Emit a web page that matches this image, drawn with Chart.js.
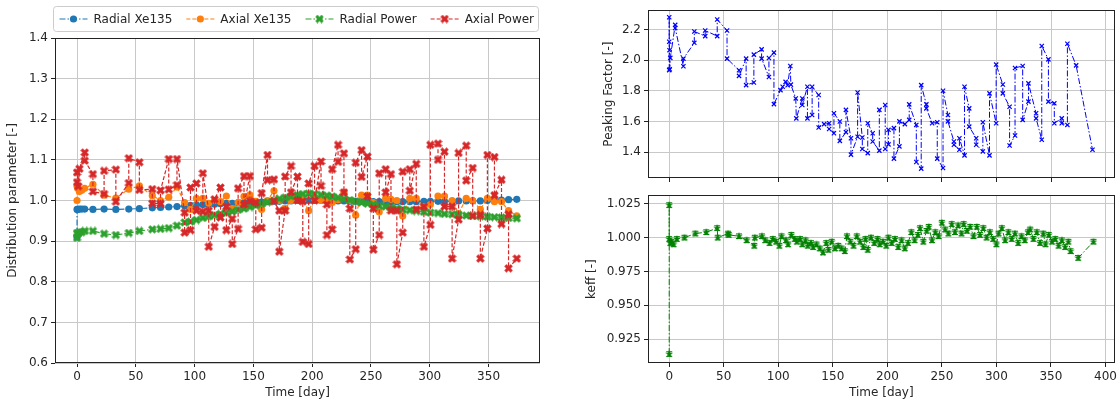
<!DOCTYPE html>
<html>
<head>
<meta charset="utf-8">
<script src="https://cdn.jsdelivr.net/npm/chart.js@4.4.0/dist/chart.umd.min.js"></script>
<style>
  html, body { margin: 0; padding: 0; background: #fff; }
  #wrap { position: relative; width: 1120px; height: 403px; overflow: hidden; }
  canvas { position: absolute; }
</style>
</head>
<body>
<div id="wrap">
  <canvas id="distChart" width="560" height="403" style="left:0;top:0"></canvas>
  <canvas id="peakChart" width="560" height="190" style="left:560px;top:0"></canvas>
  <canvas id="keffChart" width="560" height="218" style="left:560px;top:185px"></canvas>
</div>
<script>
// ---- left panel: distribution parameters ----
const days = [0, 0, 0.5, 2, 4, 6.5, 13.5, 23, 33, 44, 53, 64, 71, 78, 85, 91.5, 96.5, 101.5, 107, 112, 117, 122, 127, 132, 137,
  142, 147, 152, 157, 162, 167.5, 172, 177, 182, 187.5, 192, 197, 202, 207.5, 212.5, 217, 222, 227, 232, 237,
  242, 247, 252, 257, 262.5, 267, 272, 277, 283, 288.5, 295, 300.5, 307, 312.5, 319, 324.5, 331, 336.5, 343, 349,
  355, 361, 367, 374];
const radialXe135 = [0.910, 0.978, 0.978, 0.979, 0.979, 0.979, 0.978, 0.979, 0.978, 0.979, 0.980, 0.982, 0.983, 0.984, 0.985,
  0.987, 0.988, 0.989, 0.990, 0.991, 0.991, 0.992, 0.993, 0.993, 0.994, 0.995, 0.995, 0.996, 0.996, 0.997,
  0.998, 0.998, 0.999, 0.999, 1.000, 1.000, 1.000, 1.000, 1.000, 1.000, 0.999, 0.999, 0.999, 0.998, 0.998,
  0.998, 0.997, 0.997, 0.997, 0.997, 0.997, 0.997, 0.997, 0.997, 0.997, 0.998, 0.998, 0.998, 0.998, 0.998,
  0.999, 0.999, 0.999, 0.999, 1.000, 1.000, 1.001, 1.002, 1.003];
const axialXe135 = [1.000, 1.035, 1.030, 1.022, 1.025, 1.030, 1.040, 1.013, 1.006, 1.028, 1.036, 1.012, 1.000, 1.008, 1.033,
  0.995, 0.978, 1.005, 1.005, 0.993, 1.000, 0.997, 1.011, 0.980, 0.995, 1.010, 1.014, 0.998, 0.978, 1.000,
  1.024, 1.000, 0.980, 1.000, 1.010, 1.002, 0.975, 1.003, 1.000, 0.998, 0.995, 1.002, 1.020, 1.000, 0.964,
  1.013, 1.013, 0.995, 0.972, 1.005, 1.003, 1.000, 0.962, 1.005, 1.005, 0.985, 0.990, 1.011, 1.011, 1.000,
  0.968, 1.005, 1.000, 0.978, 1.005, 0.997, 0.997, 0.975, 0.962];
const radialPower = [0.908, 0.920, 0.918, 0.922, 0.922, 0.925, 0.925, 0.918, 0.915, 0.920, 0.925, 0.929, 0.930, 0.932, 0.938,
  0.946, 0.948, 0.952, 0.957, 0.961, 0.964, 0.967, 0.970, 0.973, 0.977, 0.980, 0.984, 0.988, 0.992, 0.996,
  1.000, 1.004, 1.007, 1.010, 1.013, 1.016, 1.017, 1.016, 1.014, 1.012, 1.010, 1.007, 1.004, 1.001, 0.998,
  0.995, 0.992, 0.990, 0.987, 0.985, 0.982, 0.980, 0.978, 0.976, 0.974, 0.972, 0.970, 0.969, 0.967, 0.966,
  0.965, 0.963, 0.962, 0.961, 0.960, 0.959, 0.958, 0.957, 0.956];
const axialPowerDays = [0, 0, 1, 2, 6.5, 6.5, 13.5, 13.5, 23, 23, 33, 33, 44, 44, 53, 53, 64, 64, 71, 71, 78, 78, 85, 85,
  91.5, 91.5, 96.5, 96.5, 101.5, 101.5, 107, 107, 112, 112, 117, 117, 122, 122, 127, 127, 132, 132, 137, 137,
  142, 142, 147, 147, 152, 152, 157, 157, 162, 162, 167.5, 167.5, 172, 172, 177, 177, 182, 182, 187.5, 187.5,
  192, 192, 197, 197, 202, 202, 207.5, 207.5, 212.5, 212.5, 217, 217, 222, 222, 227, 227, 232, 232, 237, 237,
  242, 242, 247, 247, 252, 252, 257, 257, 262.5, 262.5, 267, 267, 272, 272, 277, 277, 283, 283, 288.5, 288.5,
  295, 295, 300.5, 300.5, 307, 307, 312.5, 312.5, 319, 319, 324.5, 324.5, 331, 331, 336.5, 336.5, 343, 343,
  349, 349, 355, 355, 361, 361, 367, 367, 374];
const axialPower = [1.045, 1.069, 1.035, 1.078, 1.118, 1.098, 1.065, 1.022, 1.016, 1.073, 1.076, 0.997, 1.043, 1.104,
  1.094, 1.026, 1.028, 0.993, 0.992, 1.025, 1.102, 1.027, 1.038, 1.102,
  0.970, 0.921, 0.927, 1.032, 1.042, 0.975, 0.972, 1.067, 0.975, 0.886, 0.935, 1.003, 1.032, 0.958, 0.985, 0.927,
  0.955, 0.893, 0.930, 1.030, 1.060, 0.990, 1.060, 0.999, 0.995, 0.929, 0.933, 1.018, 1.112, 1.050, 1.052, 0.998,
  0.975, 0.874, 0.975, 1.059, 1.085, 1.020, 1.059, 1.000, 0.998, 0.898, 0.893, 1.042, 1.085, 1.000, 1.096, 1.036,
  0.990, 0.915, 0.929, 1.077, 1.137, 1.095, 1.116, 1.020, 0.980, 0.855, 0.880, 1.093, 1.124, 1.058, 1.108, 1.010,
  0.980, 0.879, 0.915, 1.067, 1.077, 1.020, 1.065, 0.975, 0.975, 0.843, 0.921, 1.071, 1.077, 1.024, 1.090, 0.978,
  0.985, 0.886, 0.940, 1.137, 1.140, 1.100, 1.120, 0.985, 0.985, 0.857, 0.953, 1.117, 1.135, 1.049, 1.080, 0.962,
  0.965, 0.857, 0.931, 1.112, 1.107, 1.013, 1.051, 0.942, 0.966, 0.833, 0.857];
const distTicks = [0.6, 0.7, 0.8, 0.9, 1.0, 1.1, 1.2, 1.3, 1.4];
const distDayTicks = [0, 50, 100, 150, 200, 250, 300, 350];

// ---- right top: peaking factor ----
const peakDays = [0, 0, 0, 0.3, 0.5, 1, 5.5, 5.5, 13, 13, 23, 23, 33, 33, 44, 44, 53, 53, 64, 64, 70.5, 70.5, 77.6, 77.6,
  84.7, 84.7, 91.4, 91.4, 96, 96, 102, 104, 106.7, 108.5, 111, 111.5, 116, 116.5, 122, 122, 126.7, 126.7, 131, 131,
  137, 137, 142, 146.6, 146.6, 151, 151, 156.4, 156.4, 162, 162, 166.6, 166.6, 172.7, 172.7, 177, 177, 182, 182,
  186.5, 186.5, 192.6, 192.6, 198, 198, 201, 201, 206, 206, 211, 211, 216, 220, 220, 226.5, 226.5, 231, 231,
  235.7, 235.7, 241, 245.7, 245.7, 251, 251, 255.5, 255.5, 261, 261, 266, 266, 270.7, 270.7, 275, 275, 281.4, 281.4,
  287.5, 287.5, 293.6, 293.6, 299.7, 299.7, 305.8, 305.8, 312, 312, 317, 317, 324, 324, 329.3, 329.3, 336.3, 336.3,
  341.5, 341.5, 347.6, 347.6, 353, 353, 359.8, 359.8, 365, 365, 373, 388];
const peakingFactor = [1.935, 2.28, 2.12, 2.065, 1.94, 2.015, 2.23, 2.21, 1.96, 2.01, 2.113, 2.187, 2.157, 2.193, 2.157, 2.265,
  2.193, 2.01, 1.934, 1.897, 2.01, 1.837, 1.854, 2.036, 2.07, 2.01, 1.89, 2.014, 2.049, 1.713, 1.804, 1.826, 1.858,
  1.836, 1.962, 1.84, 1.75, 1.62, 1.75, 1.707, 1.826, 1.62, 1.642, 1.826, 1.772, 1.56, 1.582, 1.588, 1.55, 1.523,
  1.653, 1.599, 1.473, 1.53, 1.675, 1.49, 1.383, 1.5, 1.789, 1.495, 1.42, 1.393, 1.588, 1.523, 1.469, 1.409, 1.675,
  1.707, 1.42, 1.45, 1.545, 1.556, 1.357, 1.437, 1.6, 1.582, 1.61, 1.711, 1.577, 1.335, 1.292, 1.837, 1.711, 1.685,
  1.588, 1.594, 1.357, 1.296, 1.8, 1.642, 1.6, 1.469, 1.448, 1.415, 1.49, 1.378, 1.826, 1.685, 1.566, 1.49, 1.448,
  1.404, 1.594, 1.378, 1.783, 1.588, 1.971, 1.841, 1.783, 1.696, 1.443, 1.508, 1.949, 1.962, 1.61, 1.729, 1.848,
  1.653, 1.62, 1.48, 2.092, 2.005, 1.729, 1.718, 1.588, 1.62, 1.588, 1.577, 2.107, 1.966, 1.415];
const peakTicks = [1.4, 1.6, 1.8, 2.0, 2.2];

// ---- right bottom: keff ----
const keffDays = [0, 0, 0, 1, 2, 4, 7, 14, 24, 34, 44, 44.5, 54, 54.5, 64, 71, 78, 78.5, 85, 88, 92, 95, 98, 101, 103,
  107, 109, 112, 115, 117, 120, 122, 125, 127, 130, 132, 135, 138, 141, 144, 146, 149, 152, 155, 158, 161, 163, 166,
  169, 172, 175, 178, 180, 182, 185, 188, 191, 193, 196, 199, 201, 204, 207, 210, 213, 216, 219, 222, 225, 228, 230,
  233, 236, 238, 241, 244, 247, 250, 253, 256, 259, 262, 265, 268, 270, 273, 276, 279, 282, 285, 288, 291, 294, 297,
  300, 302, 305, 308, 311, 314, 317, 320, 323, 326, 329, 331, 334, 337, 340, 343, 345, 348, 351, 354, 357, 360, 363,
  366, 368, 375, 389];
const keff = [0.914, 1.024, 0.999, 0.996, 0.997, 0.995, 0.999, 1.000, 1.003, 1.004, 1.007, 1.000, 1.003, 1.002, 1.001,
  0.998, 0.994, 1.000, 1.001, 0.998, 0.996, 0.999, 0.997, 0.994, 1.001, 0.998, 0.995, 1.002, 0.999, 0.997, 0.999,
  0.995, 0.998, 0.994, 0.996, 0.993, 0.995, 0.992, 0.989, 0.996, 0.991, 0.997, 0.992, 0.994, 0.992, 0.990, 1.001,
  0.997, 0.994, 1.001, 0.997, 0.993, 0.999, 0.991, 1.000, 0.996, 0.999, 0.995, 0.997, 0.994, 1.000, 0.996, 0.999,
  0.993, 0.998, 0.992, 0.996, 1.004, 0.998, 1.002, 1.007, 0.997, 1.005, 1.008, 0.998, 1.004, 1.001, 1.011, 1.006,
  1.003, 1.010, 1.004, 1.009, 1.003, 1.010, 1.005, 1.008, 1.001, 1.008, 1.002, 1.007, 1.000, 1.004, 0.999, 0.995,
  1.003, 1.007, 0.998, 1.004, 0.999, 1.003, 0.996, 1.001, 0.998, 1.004, 1.006, 0.999, 1.004, 0.996, 1.003, 0.995,
  1.002, 0.997, 0.999, 0.994, 0.998, 0.993, 0.997, 0.990, 0.985, 0.997];
const keffSigma = 0.0017;
const keffTicks = [0.925, 0.950, 0.975, 1.000, 1.025];
const rightDayTicks = [0, 50, 100, 150, 200, 250, 300, 350, 400];

const C_BLUE = '#1f77b4', C_ORANGE = '#ff7f0e', C_GREEN = '#2ca02c', C_RED = '#d62728';
const TEXT = '#262626', GRID = '#c8c8c8', AXIS = '#222222';
const DASH = [4, 2], DASH_DOT = [6, 2, 1.5, 2];
const FONT_SIZE = 12;

Chart.defaults.font.family = 'DejaVu Sans';
Chart.defaults.font.size = FONT_SIZE;
Chart.defaults.color = TEXT;
Chart.defaults.animation = false;

function filledX(color, size) {
  const c = document.createElement('canvas');
  c.width = c.height = size;
  const g = c.getContext('2d');
  const h = size / 2, t = size * 0.17;
  g.translate(h, h);
  g.rotate(Math.PI / 4);
  g.fillStyle = color;
  g.fillRect(-h, -t, size, 2 * t);
  g.fillRect(-t, -h, 2 * t, size);
  return c;
}

function filledStar(color, size) {
  const c = document.createElement('canvas');
  c.width = c.height = size;
  const g = c.getContext('2d');
  const R = size / 2, r = R * 0.42;
  g.translate(R, R);
  g.beginPath();
  for (let k = 0; k < 10; k++) {
    const rad = k % 2 ? r : R;
    const a = -Math.PI / 2 + k * Math.PI / 5;
    g.lineTo(rad * Math.cos(a), rad * Math.sin(a));
  }
  g.closePath();
  g.fillStyle = color;
  g.fill();
  return c;
}

const redX = filledX(C_RED, 9);
const greenX = filledX(C_GREEN, 9);
const keffStar = filledStar('#008000', 8);

function pts(xs, ys) {
  return xs.map((d, i) => ({ x: d, y: ys[i] }));
}

function dayAxis(min, max, ticks, showLabels, title, height) {
  return {
    type: 'linear', min: min, max: max,
    afterBuildTicks: s => { s.ticks = ticks.map(v => ({ value: v })); },
    afterFit: s => { s.height = height; },
    grid: { color: GRID, lineWidth: 1, tickColor: AXIS, tickLength: 4 },
    border: { display: false },
    ticks: { display: showLabels, color: TEXT, padding: 3, maxRotation: 0, autoSkip: false, callback: v => v },
    title: { display: !!title, text: title, color: TEXT, padding: { top: 0, bottom: 3 } }
  };
}

function valueAxis(min, max, ticks, digits, title, width, titlePad) {
  return {
    type: 'linear', min: min, max: max,
    afterBuildTicks: s => { s.ticks = ticks.map(v => ({ value: v })); },
    afterFit: s => { s.width = width; },
    grid: { color: GRID, lineWidth: 1, tickColor: AXIS, tickLength: 4 },
    border: { display: false },
    ticks: { color: TEXT, padding: 3, autoSkip: false, callback: v => v.toFixed(digits) },
    title: { display: true, text: title, color: TEXT, padding: { top: titlePad, bottom: 0 } }
  };
}

const frame = {
  id: 'frame',
  afterDraw(chart) {
    const { ctx, chartArea: a } = chart;
    ctx.save();
    ctx.strokeStyle = AXIS;
    ctx.lineWidth = 1;
    ctx.strokeRect(Math.round(a.left) + 0.5, Math.round(a.top) + 0.5,
      Math.round(a.width) - 1, Math.round(a.height) - 1);
    ctx.restore();
  }
};

const legendItems = [
  { text: 'Radial Xe135', color: C_BLUE, dash: DASH_DOT, marker: 'circle' },
  { text: 'Axial Xe135', color: C_ORANGE, dash: DASH, marker: 'circle' },
  { text: 'Radial Power', color: C_GREEN, dash: DASH_DOT, marker: greenX },
  { text: 'Axial Power', color: C_RED, dash: DASH, marker: redX }
];

const boxLegend = {
  id: 'boxLegend',
  afterDraw(chart) {
    const { ctx } = chart;
    const left = 53.5, top = 6.5, w = 485, h = 25;
    ctx.save();
    ctx.fillStyle = 'rgba(255,255,255,0.8)';
    ctx.strokeStyle = '#cccccc';
    ctx.lineWidth = 1;
    ctx.beginPath();
    ctx.roundRect(left, top, w, h, 3);
    ctx.fill();
    ctx.stroke();
    ctx.font = FONT_SIZE + 'px "DejaVu Sans"';
    ctx.textBaseline = 'middle';
    const cy = top + h / 2;
    let x = left + 6;
    legendItems.forEach(item => {
      ctx.strokeStyle = item.color;
      ctx.lineWidth = 1.2;
      ctx.setLineDash(item.dash);
      ctx.beginPath();
      ctx.moveTo(x, cy);
      ctx.lineTo(x + 28, cy);
      ctx.stroke();
      ctx.setLineDash([]);
      if (item.marker === 'circle') {
        ctx.fillStyle = item.color;
        ctx.beginPath();
        ctx.arc(x + 14, cy, 3.6, 0, Math.PI * 2);
        ctx.fill();
      } else {
        ctx.drawImage(item.marker, x + 14 - item.marker.width / 2, cy - item.marker.height / 2);
      }
      ctx.fillStyle = TEXT;
      ctx.fillText(item.text, x + 34, cy + 0.5);
      x += 34 + ctx.measureText(item.text).width + 14;
    });
    ctx.restore();
  }
};

const keffErrors = {
  id: 'keffErrors',
  beforeDatasetsDraw(chart) {
    const { ctx, chartArea: a, scales: { x, y } } = chart;
    ctx.save();
    ctx.beginPath();
    ctx.rect(a.left, a.top, a.width, a.height);
    ctx.clip();
    ctx.strokeStyle = '#008000';
    ctx.lineWidth = 1;
    keffDays.forEach((d, i) => {
      const px = x.getPixelForValue(d);
      const lo = y.getPixelForValue(keff[i] - keffSigma);
      const hi = y.getPixelForValue(keff[i] + keffSigma);
      ctx.beginPath();
      ctx.moveTo(px, lo); ctx.lineTo(px, hi);
      ctx.moveTo(px - 3, lo); ctx.lineTo(px + 3, lo);
      ctx.moveTo(px - 3, hi); ctx.lineTo(px + 3, hi);
      ctx.stroke();
    });
    ctx.restore();
  }
};

function lineSet(label, data, color, dash, marker, radius, order) {
  return {
    label: label, data: data, order: order,
    borderColor: color, backgroundColor: color, borderWidth: 1.2, borderDash: dash,
    pointStyle: marker, pointRadius: radius, pointBorderWidth: 0,
    pointBackgroundColor: color, pointBorderColor: color, tension: 0
  };
}

new Chart(document.getElementById('distChart'), {
  type: 'line',
  data: {
    datasets: [
      lineSet('Radial Xe135', pts(days, radialXe135), C_BLUE, DASH_DOT, 'circle', 3.6, 4),
      lineSet('Axial Xe135', pts(days, axialXe135), C_ORANGE, DASH, 'circle', 3.6, 3),
      lineSet('Radial Power', pts(days, radialPower), C_GREEN, DASH_DOT, greenX, 4, 2),
      lineSet('Axial Power', pts(axialPowerDays, axialPower), C_RED, DASH, redX, 4, 1)
    ]
  },
  options: {
    responsive: false,
    layout: { padding: { left: 0, right: 20, top: 38, bottom: 0 } },
    plugins: { legend: { display: false }, tooltip: { enabled: false } },
    scales: {
      x: dayAxis(-18.75, 393.75, distDayTicks, true, 'Time [day]', 40),
      y: valueAxis(0.6, 1.4, distTicks, 1, 'Distribution parameter [-]', 55, 6)
    }
  },
  plugins: [frame, boxLegend]
});

new Chart(document.getElementById('peakChart'), {
  type: 'line',
  data: {
    datasets: [
      {
        label: 'Peaking Factor', data: pts(peakDays, peakingFactor),
        borderColor: '#0000ff', borderWidth: 1, borderDash: DASH_DOT,
        pointStyle: 'crossRot', pointRadius: 3, pointBorderWidth: 1.2,
        pointBorderColor: '#0000ff', pointBackgroundColor: '#0000ff', tension: 0
      }
    ]
  },
  options: {
    responsive: false,
    layout: { padding: { left: 0, right: 3, top: 10, bottom: 0 } },
    plugins: { legend: { display: false }, tooltip: { enabled: false } },
    scales: {
      x: dayAxis(-19.45, 408.45, rightDayTicks, false, '', 12),
      y: valueAxis(1.2305, 2.326, peakTicks, 1, 'Peaking Factor [-]', 88, 42)
    }
  },
  plugins: [frame]
});

new Chart(document.getElementById('keffChart'), {
  type: 'line',
  data: {
    datasets: [
      {
        label: 'keff', data: pts(keffDays, keff),
        borderColor: '#008000', borderWidth: 1, borderDash: DASH_DOT,
        pointStyle: keffStar, pointRadius: 4, pointBorderWidth: 0,
        pointBackgroundColor: '#008000', tension: 0
      }
    ]
  },
  options: {
    responsive: false,
    layout: { padding: { left: 0, right: 3, top: 10, bottom: 0 } },
    plugins: { legend: { display: false }, tooltip: { enabled: false } },
    scales: {
      x: dayAxis(-19.45, 408.45, rightDayTicks, true, 'Time [day]', 40),
      y: valueAxis(0.9074, 1.0313, keffTicks, 3, 'keff [-]', 88, 25)
    }
  },
  plugins: [frame, keffErrors]
});
</script>
</body>
</html>
